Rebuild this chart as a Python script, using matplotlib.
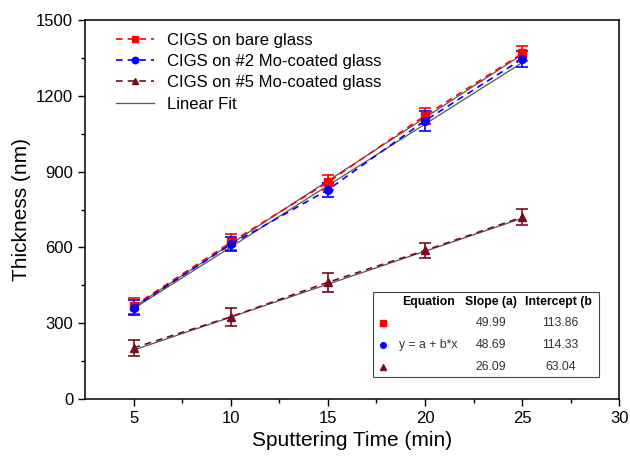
import numpy as np
import matplotlib.pyplot as plt
from matplotlib.patches import Rectangle

plt.rcParams['font.family'] = ['Liberation Sans', 'DejaVu Sans']

# Data
time = [5, 10, 15, 20, 25]
bare = [368, 620, 858, 1122, 1368]
bare_err = [30, 32, 30, 32, 30]
mo2 = [362, 612, 828, 1102, 1346]
mo2_err = [30, 28, 28, 40, 32]
mo5 = [202, 325, 462, 588, 720]
mo5_err = [32, 36, 38, 28, 32]

# Linear fit table: intercept, slope
slopes = [49.99, 48.69, 26.09]
intercepts = [113.86, 114.33, 63.04]

colors = ['#ff0000', '#0000ff', '#7a0a1e']
markers = ['s', 'o', '^']
labels = ['CIGS on bare glass', 'CIGS on #2 Mo-coated glass', 'CIGS on #5 Mo-coated glass']

fig = plt.figure(figsize=(6.3, 4.58), dpi=100)
ax = fig.add_axes([0.135, 0.129, 0.848, 0.827])

series = [(bare, bare_err), (mo2, mo2_err), (mo5, mo5_err)]
xfit = np.array([5, 25])
for i, (y, e) in enumerate(series):
    ax.errorbar(time, y, yerr=e, fmt='none', ecolor=colors[i], elinewidth=1.2,
                capsize=4, capthick=1.2, zorder=3)
    ax.plot(time, y, linestyle=(0, (4, 3)), color=colors[i], marker=markers[i],
            markersize=5.5, linewidth=1.2, label=labels[i], zorder=4)
for i in range(3):
    lbl = 'Linear Fit' if i == 0 else None
    ax.plot(xfit, intercepts[i] + slopes[i] * xfit, color='#555555',
            linewidth=0.9, label=lbl, zorder=2)

ax.set_xlim(2.5, 30)
ax.set_ylim(0, 1500)
ax.set_xticks([5, 10, 15, 20, 25, 30])
ax.set_xticks(np.arange(7.5, 30, 5), minor=True)
ax.set_yticks(np.arange(0, 1501, 300))
ax.set_yticks(np.arange(150, 1500, 300), minor=True)
ax.tick_params(direction='out', labelsize=12, length=5, width=1, top=False, right=False)
ax.tick_params(which='minor', direction='out', length=3, width=1)
for s in ax.spines.values():
    s.set_linewidth(1.1)

ax.set_xlabel('Sputtering Time (min)', fontsize=15)
ax.set_ylabel('Thickness (nm)', fontsize=15)

ax.legend(loc='upper left', bbox_to_anchor=(0.045, 0.985), frameon=False,
          fontsize=12, handlelength=2.3, handletextpad=0.8, labelspacing=0.38,
          borderaxespad=0, markerscale=0.85)


# Fit-parameter table in lower right, placed via pixel -> axes fraction
def af(px, py):
    x0, y0 = 85, 399
    return ((px - x0) / (619 - 85), (y0 - py) / (399 - 20))


x0, y0 = af(373, 377)
x1, y1 = af(599, 292)
ax.add_patch(Rectangle((x0, y0), x1 - x0, y1 - y0, transform=ax.transAxes,
                       fill=True, facecolor='white', edgecolor='#444444',
                       linewidth=0.8, zorder=5))
hdr_y = af(0, 302)[1]
ax.text(af(428, 0)[0], hdr_y, 'Equation', transform=ax.transAxes, ha='center',
        va='center', fontsize=8.8, fontweight='bold', zorder=6)
ax.text(af(491, 0)[0], hdr_y, 'Slope (a)', transform=ax.transAxes, ha='center',
        va='center', fontsize=8.8, fontweight='bold', zorder=6)
ax.text(af(558, 0)[0], hdr_y, 'Intercept (b', transform=ax.transAxes, ha='center',
        va='center', fontsize=8.8, fontweight='bold', zorder=6)
row_py = [323, 345, 367]
for i in range(3):
    ry = af(0, row_py[i])[1]
    ax.plot(af(383, 0)[0], ry, marker=markers[i], color=colors[i], markersize=4,
            transform=ax.transAxes, zorder=6, clip_on=False)
    ax.text(af(491, 0)[0], ry, f'{slopes[i]:.2f}', transform=ax.transAxes,
            ha='center', va='center', fontsize=8.8, color='#333333', zorder=6)
    ax.text(af(560, 0)[0], ry, f'{intercepts[i]:.2f}', transform=ax.transAxes,
            ha='center', va='center', fontsize=8.8, color='#333333', zorder=6)
ax.text(af(428, 0)[0], af(0, 345)[1], 'y = a + b*x', transform=ax.transAxes,
        ha='center', va='center', fontsize=8.8, color='#333333', zorder=6)

fig.savefig('out.png', dpi=100)
